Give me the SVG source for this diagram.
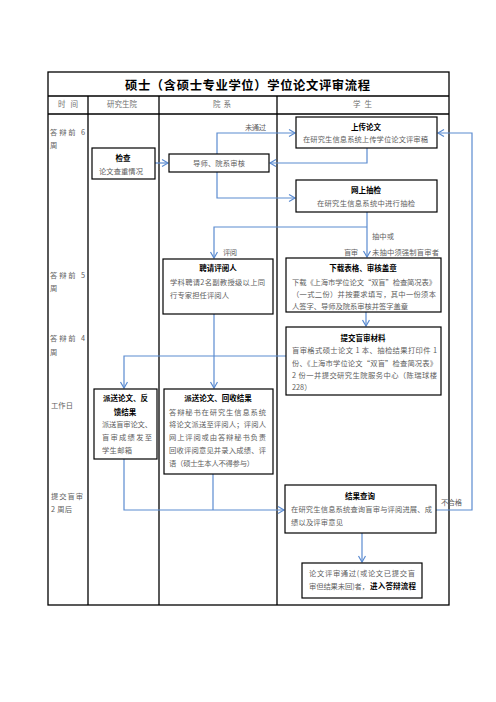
<svg xmlns="http://www.w3.org/2000/svg" width="496" height="702" viewBox="0 0 496 702">
<style>
text{font-family:"Noto Sans CJK SC","Noto Sans",sans-serif;}
.t{font-size:7.3px;fill:#606060;}
.b{font-size:7.5px;font-weight:bold;fill:#000;}
.h{font-size:7.5px;fill:#707070;}
.lbl{font-size:7.3px;fill:#606060;}
.box{fill:#fff;stroke:#000;stroke-width:1.2;}
.grid{stroke:#000;stroke-width:1.3;fill:none;}
.c{fill:none;stroke:#5b8bd0;stroke-width:1.2;}
</style>
<defs>
<marker id="ah" markerUnits="userSpaceOnUse" markerWidth="10" markerHeight="10" refX="7" refY="4" orient="auto">
<path d="M1,0.5 L7,4 L1,7.5" fill="none" stroke="#5b8bd0" stroke-width="1.2"/>
</marker>
</defs>
<rect width="496" height="702" fill="#fff"/>
<g id="table">
<rect class="grid" x="48" y="72" width="401" height="533"/>
<line class="grid" x1="48" y1="96" x2="449" y2="96"/>
<line class="grid" x1="48" y1="114" x2="449" y2="114"/>
<line class="grid" x1="88" y1="96" x2="88" y2="605"/>
<line class="grid" x1="159" y1="96" x2="159" y2="605"/>
<line class="grid" x1="277" y1="96" x2="277" y2="605"/>
<text x="125" y="90" style="font-size:12.3px;font-weight:bold;fill:#000" textLength="245" lengthAdjust="spacing">硕士（含硕士专业学位）学位论文评审流程</text>
<text class="h" x="58" y="107" textLength="20" lengthAdjust="spacing">时间</text>
<text class="h" x="107" y="107" textLength="30" lengthAdjust="spacing">研究生院</text>
<text class="h" x="213" y="107" textLength="18" lengthAdjust="spacing">院系</text>
<text class="h" x="353" y="107" textLength="19" lengthAdjust="spacing">学生</text>
<text class="t" x="50" y="135" textLength="35" lengthAdjust="spacing">答辩前 6</text>
<text class="t" x="50" y="148">周</text>
<text class="t" x="50" y="278" textLength="35" lengthAdjust="spacing">答辩前 5</text>
<text class="t" x="50" y="291">周</text>
<text class="t" x="50" y="341" textLength="35" lengthAdjust="spacing">答辩前 4</text>
<text class="t" x="50" y="355">周</text>
<text class="t" x="51" y="408" textLength="22" lengthAdjust="spacing">工作日</text>
<text class="t" x="51" y="499" textLength="32" lengthAdjust="spacing">提交盲审</text>
<text class="t" x="51" y="512" textLength="21" lengthAdjust="spacing">2 周后</text>
</g>
<g id="connectors">
<path class="c" d="M155,163 H168" marker-end="url(#ah)"/>
<path class="c" d="M217,154 V133 H295" marker-end="url(#ah)"/>
<path class="c" d="M367,148 V163 H270" marker-end="url(#ah)"/>
<path class="c" d="M217,172 V198 H295" marker-end="url(#ah)"/>
<path class="c" d="M367,212 V257" marker-end="url(#ah)"/>
<path class="c" d="M367,227 H214 V258" marker-end="url(#ah)"/>
<path class="c" d="M366,312 V326" marker-end="url(#ah)"/>
<path class="c" d="M286,356 H124 V388" marker-end="url(#ah)"/>
<path class="c" d="M214,314 V388" marker-end="url(#ah)"/>
<path class="c" d="M124,459 V510 H284" marker-end="url(#ah)"/>
<path class="c" d="M213,474 V510"/>
<path class="c" d="M436,510 H472 V133 H438" marker-end="url(#ah)"/>
<path class="c" d="M362,533 V562" marker-end="url(#ah)"/>
<text class="lbl" x="245" y="130" textLength="21" lengthAdjust="spacing">未通过</text>
<text class="lbl" x="223" y="255" textLength="14" lengthAdjust="spacing">评阅</text>
<text class="lbl" x="344" y="255" textLength="14" lengthAdjust="spacing">盲审</text>
<text class="lbl" x="372" y="239" textLength="22" lengthAdjust="spacing">抽中或</text>
<text class="lbl" x="372" y="255" textLength="67" lengthAdjust="spacing">未抽中须强制盲审者</text>
<text class="lbl" x="441" y="505" textLength="21" lengthAdjust="spacing">不合格</text>
</g>
<g id="upload">
<rect class="box" x="296" y="117" width="141" height="31"/>
<text class="b" x="366" y="130" text-anchor="middle">上传论文</text>
<text class="t" x="303" y="142" textLength="125" lengthAdjust="spacing">在研究生信息系统上传学位论文评审稿</text>
</g>
<g id="check">
<rect class="box" x="92" y="148" width="63" height="31"/>
<text class="b" x="123" y="161" text-anchor="middle">检查</text>
<text class="t" x="99" y="174" textLength="44" lengthAdjust="spacing">论文查重情况</text>
</g>
<g id="review">
<rect class="box" x="169" y="154" width="100" height="18"/>
<text class="t" x="193" y="166" textLength="52" lengthAdjust="spacing">导师、院系审核</text>
</g>
<g id="spotcheck">
<rect class="box" x="296" y="180" width="141" height="32"/>
<text class="b" x="366" y="193" text-anchor="middle">网上抽检</text>
<text class="t" x="317" y="206" textLength="98" lengthAdjust="spacing">在研究生信息系统中进行抽检</text>
</g>
<g id="hire">
<rect class="box" x="163" y="259" width="110" height="55"/>
<text class="b" x="218" y="271" text-anchor="middle">聘请评阅人</text>
<text class="t" x="170" y="285" textLength="95" lengthAdjust="spacing">学科聘请2名副教授级以上同</text>
<text class="t" x="170" y="298" textLength="59" lengthAdjust="spacing">行专家担任评阅人</text>
</g>
<g id="download">
<rect class="box" x="286" y="258" width="155" height="54"/>
<text class="b" x="363" y="271" text-anchor="middle">下载表格、审核盖章</text>
<text class="t" x="292" y="285" textLength="144" lengthAdjust="spacing">下载《上海市学位论文“双盲”检查简况表》</text>
<text class="t" x="292" y="297" textLength="144" lengthAdjust="spacing">（一式二份）并按要求填写，其中一份须本</text>
<text class="t" x="292" y="309" textLength="116" lengthAdjust="spacing">人签字、导师及院系审核并签字盖章</text>
</g>
<g id="submit">
<rect class="box" x="286" y="327" width="155" height="68"/>
<text class="b" x="363" y="341" text-anchor="middle">提交盲审材料</text>
<text class="t" x="292" y="353" textLength="145" lengthAdjust="spacing">盲审格式硕士论文 1 本、抽检结果打印件 1</text>
<text class="t" x="292" y="366" textLength="145" lengthAdjust="spacing">份、《上海市学位论文“双盲”检查简况表》</text>
<text class="t" x="292" y="378" textLength="145" lengthAdjust="spacing">2 份一并提交研究生院服务中心（陈瑞球楼</text>
<text class="t" x="292" y="390">228）</text>
</g>
<g id="dispatch-feedback">
<rect class="box" x="94" y="389" width="63" height="70"/>
<text class="b" x="103" y="401" textLength="45" lengthAdjust="spacing">派送论文、反</text>
<text class="b" x="125" y="415" text-anchor="middle">馈结果</text>
<text class="t" x="102" y="427" textLength="50" lengthAdjust="spacing">派送盲审论文、</text>
<text class="t" x="102" y="440" textLength="50" lengthAdjust="spacing">盲审成绩发至</text>
<text class="t" x="102" y="453" textLength="30" lengthAdjust="spacing">学生邮箱</text>
</g>
<g id="dispatch-collect">
<rect class="box" x="164" y="389" width="109" height="85"/>
<text class="b" x="218" y="401" text-anchor="middle">派送论文、回收结果</text>
<text class="t" x="169" y="415" textLength="97" lengthAdjust="spacing">答辩秘书在研究生信息系统</text>
<text class="t" x="169" y="427" textLength="97" lengthAdjust="spacing">将论文派送至评阅人；评阅人</text>
<text class="t" x="169" y="440" textLength="97" lengthAdjust="spacing">网上评阅或由答辩秘书负责</text>
<text class="t" x="169" y="453" textLength="97" lengthAdjust="spacing">回收评阅意见并录入成绩、评</text>
<text class="t" x="169" y="466" textLength="85" lengthAdjust="spacing">语（硕士生本人不得参与）</text>
</g>
<g id="result">
<rect class="box" x="285" y="485" width="151" height="48"/>
<text class="b" x="360" y="499" text-anchor="middle">结果查询</text>
<text class="t" x="291" y="512" textLength="141" lengthAdjust="spacing">在研究生信息系统查询盲审与评阅进展、成</text>
<text class="t" x="291" y="525" textLength="52" lengthAdjust="spacing">绩以及评审意见</text>
</g>
<g id="pass">
<rect class="box" x="302" y="563" width="120" height="35"/>
<text class="t" x="309" y="576" textLength="106" lengthAdjust="spacing">论文评审通过(或论文已提交盲</text>
<text class="t" x="309" y="589" textLength="60" lengthAdjust="spacing">审但结果未回)者，</text>
<text class="b" x="370" y="589" textLength="46" lengthAdjust="spacing">进入答辩流程</text>
</g>
</svg>
